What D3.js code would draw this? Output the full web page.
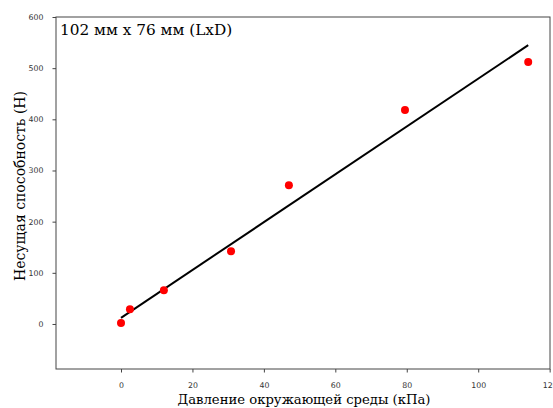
<!DOCTYPE html>
<html><head><meta charset="utf-8">
<script src="https://cdn.jsdelivr.net/npm/d3@7"></script>
<style>body{margin:0;background:#fff}</style>
</head><body>
<script>
const pressure = [0, 2.5, 12, 30.8, 47, 79.5, 114];
const capacity = [2, 29, 66, 142, 271, 418, 512];
const fitX = [0, 114];
const fitY = [12, 545];
const xTicks = [0, 20, 40, 60, 80, 100, 120];
const yTicks = [0, 100, 200, 300, 400, 500, 600];
const title = "102 мм x 76 мм (LxD)";
const xLabel = "Давление окружающей среды (кПа)";
const yLabel = "Несущая способность (Н)";

const W = 553, H = 408;
const m = {l:56, r:3, t:17, b:39};
const svg = d3.select("body").append("svg").attr("width", W).attr("height", H);
const x = d3.scaleLinear().domain([-18.2, 120.1]).range([m.l, W - m.r]);
const y = d3.scaleLinear().domain([-88, 600]).range([H - m.b, m.t]);

const axColor = "#444";
const xa = svg.append("g").attr("transform", `translate(0,${H - m.b})`)
  .call(d3.axisBottom(x).tickValues(xTicks).tickSize(3.5).tickPadding(10).tickFormat(d3.format("d")));
const ya = svg.append("g").attr("transform", `translate(${m.l},0)`)
  .call(d3.axisLeft(y).tickValues(yTicks).tickSize(3.5).tickPadding(9).tickFormat(d3.format("d")));
[xa, ya].forEach(g => {
  g.select(".domain").remove();
  g.selectAll("line").attr("stroke", axColor);
  g.selectAll("text").attr("font-family", "DejaVu Sans").attr("font-size", 7.8).attr("fill", "#333");
});
svg.append("rect").attr("x", m.l).attr("y", m.t).attr("width", W - m.l - m.r).attr("height", H - m.t - m.b)
  .attr("fill", "none").attr("stroke", axColor).attr("stroke-width", 1);

svg.append("line").attr("x1", x(fitX[0])).attr("y1", y(fitY[0])).attr("x2", x(fitX[1])).attr("y2", y(fitY[1]))
  .attr("stroke", "#000").attr("stroke-width", 2);

svg.selectAll("circle.pt").data(pressure).enter().append("circle")
  .attr("cx", (d) => x(d)).attr("cy", (d, i) => y(capacity[i])).attr("r", 4).attr("fill", "#ff0000");

svg.append("text").attr("x", m.l + 4).attr("y", m.t + 18).text(title)
  .attr("font-family", "DejaVu Serif").attr("font-size", 15.3).attr("fill", "#000");
svg.append("text").attr("x", 304).attr("y", 404).attr("text-anchor", "middle").text(xLabel)
  .attr("font-family", "DejaVu Serif").attr("font-size", 13.2).attr("fill", "#000");
svg.append("text").attr("transform", `translate(25,186) rotate(-90)`).attr("text-anchor", "middle").text(yLabel)
  .attr("font-family", "DejaVu Serif").attr("font-size", 14).attr("fill", "#000");
</script>
</body></html>
